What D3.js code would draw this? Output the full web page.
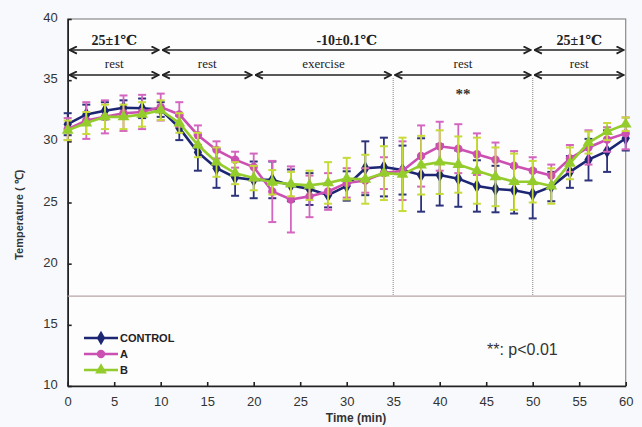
<!DOCTYPE html>
<meta charset="utf-8">
<style>
body { margin:0; background:#f8f9fc; }
svg { display:block; }
.tick text { font-family: Arial, "Liberation Sans", sans-serif; font-size:13px; fill:#333; }
.serif { font-family: "Liberation Serif", "DejaVu Serif", serif; }
</style>
<body>
<svg width="642" height="427"></svg>
<script src="https://cdn.jsdelivr.net/npm/d3@7"></script>
<script>
var times = [0,2,4,6,8,10,12,14,16,18,20,22,24,26,28,30,32,34,36,38,40,42,44,46,48,50,52,54,56,58,60];

var control = [31.4,32.2,32.5,32.75,32.7,32.6,31.1,29.1,27.8,27.05,26.85,26.85,26.4,26.1,25.6,26.35,27.8,27.9,27.65,27.25,27.25,26.95,26.35,26.1,26.0,25.7,26.3,27.5,28.5,29.2,30.25];
var controlErr = [0.9,0.8,0.7,0.6,0.8,0.6,1.0,1.5,1.6,1.5,1.5,1.5,1.3,1.3,1.0,1.2,2.2,2.4,2.0,3.0,2.5,2.3,2.1,1.9,1.9,2.0,1.2,1.3,1.7,1.7,1.0];

var seriesA = [31.0,31.7,32.0,32.3,32.4,32.8,32.2,30.5,29.3,28.5,27.9,25.9,25.25,25.5,25.9,26.6,26.8,27.4,27.6,28.8,29.6,29.4,28.95,28.5,28.0,27.6,27.2,28.6,29.5,30.15,30.65];
var seriesAErr = [0.9,1.5,1.35,1.45,1.4,1.1,1.0,0.8,0.7,0.65,1.1,2.5,2.7,1.7,1.5,1.2,1.0,1.3,2.4,2.5,2.0,2.0,1.7,1.4,1.2,1.1,0.9,1.1,1.4,1.0,1.3];

var seriesB = [30.9,31.5,32.0,32.0,32.2,32.55,31.5,29.7,28.3,27.4,27.0,26.65,26.5,26.4,26.6,26.95,26.9,27.4,27.3,28.05,28.3,28.1,27.6,27.1,26.7,26.7,26.35,28.2,29.9,30.8,31.4];
var seriesBErr = [0.8,0.9,1.0,1.0,1.0,0.8,0.8,1.0,1.2,0.9,1.0,1.0,1.0,1.2,1.7,1.7,2.0,2.2,3.0,2.4,2.6,2.3,2.7,2.4,2.3,1.7,1.45,1.3,0.9,0.7,0.55];

var seriesNames = ["CONTROL","A","B"];
var xTicks = [0,5,10,15,20,25,30,35,40,45,50,55,60];
var yTicks = [10,15,20,25,30,35,40];

// top annotation rows
var tempPhases = [{from:0,to:10,label:"25±1℃"},{from:10,to:50,label:"-10±0.1℃"},{from:50,to:60,label:"25±1℃"}];
var actPhases = [{from:0,to:10,label:"rest"},{from:10,to:20,label:"rest"},{from:20,to:35,label:"exercise"},{from:35,to:50,label:"rest"},{from:50,to:60,label:"rest"}];
var phaseLines = [35,50];
var baseLine = 17.35;

var svg = d3.select("svg");

var x = d3.scaleLinear().domain([0,60]).range([67.7,625.7]);
var y = d3.scaleLinear().domain([10,40]).range([386,19]);

svg.append("rect").attr("x",x(0)).attr("y",y(40)).attr("width",x(60)-x(0)).attr("height",y(10)-y(40))
    .attr("fill","#fdfdfe").attr("stroke","#8a8a8a").attr("stroke-width",1.2);

// axes
var xAxis = svg.append("g").attr("transform","translate(0,"+y(10)+")")
    .call(d3.axisBottom(x).tickValues(xTicks).tickSizeInner(-4).tickSizeOuter(0).tickPadding(11));
var yAxis = svg.append("g").attr("transform","translate("+x(0)+",0)")
    .call(d3.axisLeft(y).tickValues(yTicks).tickSizeInner(-4).tickSizeOuter(0).tickPadding(10));
xAxis.selectAll("path,line").attr("stroke","#222").attr("stroke-width",1.6);
yAxis.selectAll("path,line").attr("stroke","#222").attr("stroke-width",1.6);
yAxis.selectAll(".tick text").attr("dy","0.2em");

svg.append("text").attr("x",x(31)).attr("y",422).attr("text-anchor","middle")
    .attr("font-family","Arial, sans-serif").attr("font-size",12).attr("font-weight","bold").attr("fill","#333")
    .text("Time (min)");
svg.append("text").attr("transform","translate(23,"+y(24)+") rotate(-90)").attr("text-anchor","middle")
    .attr("font-family","Arial, sans-serif").attr("font-size",11).attr("font-weight","bold").attr("fill","#333")
    .text("Temperature ( ℃)");

// reference lines
svg.append("line").attr("x1",x(0)).attr("x2",x(60)).attr("y1",y(baseLine)).attr("y2",y(baseLine))
    .attr("stroke","#b7a4a4").attr("stroke-width",1.3);
svg.selectAll(".phase").data(phaseLines).enter().append("line")
    .attr("x1",function(d){return x(d);}).attr("x2",function(d){return x(d);})
    .attr("y1",78).attr("y2",y(baseLine))
    .attr("stroke","#999").attr("stroke-width",1.2).attr("stroke-dasharray","1,1");

// arrows
var defs = svg.append("defs");
defs.append("marker").attr("id","ah").attr("viewBox","0 0 10 10").attr("refX",9).attr("refY",5)
    .attr("markerWidth",9).attr("markerHeight",9).attr("markerUnits","userSpaceOnUse").attr("orient","auto-start-reverse")
  .append("path").attr("d","M1,1 L9,5 L1,9").attr("fill","none").attr("stroke","#222").attr("stroke-width",2);

function arrowRow(data, yy, labelY, bold, size){
  var g = svg.append("g");
  g.selectAll("line").data(data).enter().append("line")
    .attr("x1",function(d){return x(d.from)+2;}).attr("x2",function(d){return x(d.to)-2;})
    .attr("y1",yy).attr("y2",yy).attr("stroke","#222").attr("stroke-width",1.6)
    .attr("marker-start","url(#ah)").attr("marker-end","url(#ah)");
  g.selectAll("text").data(data).enter().append("text").attr("class","serif")
    .attr("x",function(d){return (x(d.from)+x(d.to))/2;}).attr("y",labelY)
    .attr("text-anchor","middle").attr("font-size",size).attr("font-weight",bold?"bold":"normal").attr("fill","#222")
    .text(function(d){return d.label;});
}
arrowRow(tempPhases, 50, 45, true, 14);
arrowRow(actPhases, 75, 68, false, 13);

svg.append("text").attr("class","serif").attr("x",x(42.5)).attr("y",99).attr("text-anchor","middle")
    .attr("font-size",15).attr("font-weight","bold").attr("fill","#333").text("**");

// series
var series = [
  {name:seriesNames[0], values:control, err:controlErr, line:"#1d2672", bar:"#2c337a", shape:d3.symbolDiamond, size:60},
  {name:seriesNames[1], values:seriesA, err:seriesAErr, line:"#cc4fb2", bar:"#d466c0", shape:d3.symbolCircle, size:55},
  {name:seriesNames[2], values:seriesB, err:seriesBErr, line:"#94cc2c", bar:"#c6da38", shape:d3.symbolTriangle, size:60}
];

series.forEach(function(s){
  var pts = times.map(function(t,i){return {t:t, v:s.values[i], e:s.err[i]};});
  var g = svg.append("g");
  var eb = g.selectAll(".eb").data(pts).enter().append("g");
  eb.append("line").attr("x1",function(d){return x(d.t);}).attr("x2",function(d){return x(d.t);})
    .attr("y1",function(d){return y(d.v+d.e);}).attr("y2",function(d){return y(d.v-d.e);})
    .attr("stroke",s.bar).attr("stroke-width",1.8);
  [1,-1].forEach(function(k){
    eb.append("line").attr("x1",function(d){return x(d.t)-4;}).attr("x2",function(d){return x(d.t)+4;})
      .attr("y1",function(d){return y(d.v+k*d.e);}).attr("y2",function(d){return y(d.v+k*d.e);})
      .attr("stroke",s.bar).attr("stroke-width",2);
  });
  s.g = g; s.pts = pts;
});
series.forEach(function(s){
  s.g.append("path").datum(s.pts)
    .attr("d",d3.line().x(function(d){return x(d.t);}).y(function(d){return y(d.v);}))
    .attr("fill","none").attr("stroke",s.line).attr("stroke-width",2.6);
  s.g.selectAll(".pt").data(s.pts).enter().append("path")
    .attr("transform",function(d){return "translate("+x(d.t)+","+y(d.v)+")";})
    .attr("d",d3.symbol().type(s.shape).size(s.size)).attr("fill",s.line);
});

// legend
var leg = svg.append("g").selectAll("g").data(series).enter().append("g")
    .attr("transform",function(d,i){return "translate(84,"+(338+i*16)+")";});
leg.append("line").attr("x1",0).attr("x2",34).attr("stroke",function(d){return d.line;}).attr("stroke-width",2.6);
leg.append("path").attr("transform","translate(17,0)").attr("d",function(d){return d3.symbol().type(d.shape).size(d.size)();})
    .attr("fill",function(d){return d.line;});
leg.append("text").attr("x",36).attr("y",4).attr("font-family","Arial, sans-serif").attr("font-size",11)
    .attr("font-weight","bold").attr("fill","#222").text(function(d){return d.name;});

svg.append("text").attr("x",487).attr("y",355).attr("font-family","Arial, sans-serif").attr("font-size",16)
    .attr("fill","#333").text("**: p<0.01");
</script>
</body>
